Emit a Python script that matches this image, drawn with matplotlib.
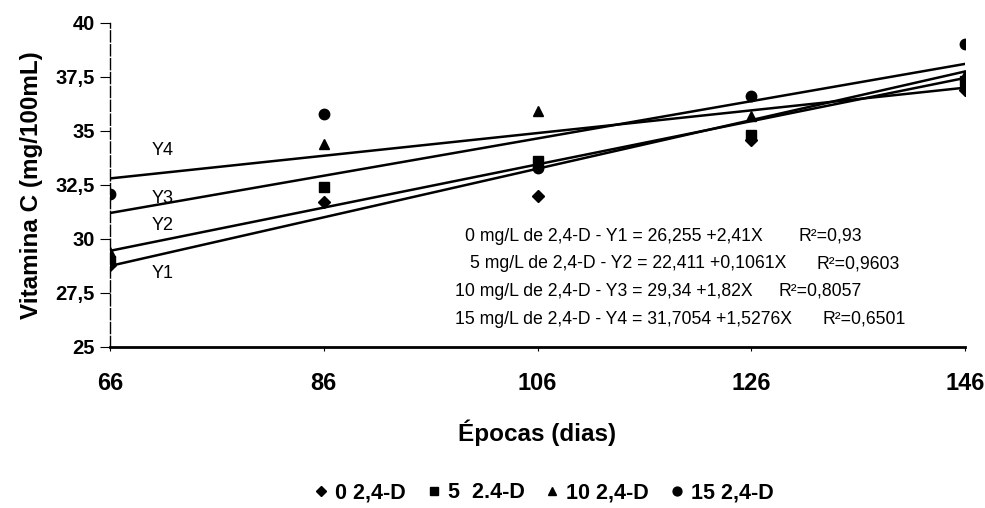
import matplotlib
matplotlib.use("Agg")
import matplotlib.pyplot as plt
from matplotlib import font_manager

# dados
epocas = [66, 86, 106, 126, 146]
d0 = [28.8, 31.7, 32.0, 34.6, 36.9]     # 0 mg/L 2,4-D (losango)
d5 = [29.0, 32.4, 33.6, 34.8, 37.3]     # 5 mg/L (quadrado)
d10 = [29.4, 34.4, 35.9, 35.7, 37.6]    # 10 mg/L (triangulo)
d15 = [32.1, 35.8, 33.3, 36.6, 39.0]    # 15 mg/L (circulo)

# retas ajustadas (valor em 66 e em 146)
reta_x = [66, 146]
y1 = [28.75, 37.75]
y2 = [29.45, 37.45]
y3 = [31.2, 38.1]
y4 = [32.8, 37.0]

rotulos_y = [25, 27.5, 30, 32.5, 35, 37.5, 40]
rotulos_y_txt = ["25", "27,5", "30", "32,5", "35", "37,5", "40"]

equacoes = ["0 mg/L de 2,4-D - Y1 = 26,255 +2,41X",
            "5 mg/L de 2,4-D - Y2 = 22,411 +0,1061X",
            "10 mg/L de 2,4-D - Y3 = 29,34 +1,82X",
            "15 mg/L de 2,4-D - Y4 = 31,7054 +1,5276X"]
r2 = ["R²=0,93", "R²=0,9603", "R²=0,8057", "R²=0,6501"]

nomes = {f.name for f in font_manager.fontManager.ttflist}
fonte = "Liberation Sans"
estreita = "Liberation Sans Narrow" if "Liberation Sans Narrow" in nomes else "Liberation Sans"

plt.rcParams['font.family'] = [fonte, 'DejaVu Sans']

fig = plt.figure(figsize=(9.85, 5.08), dpi=100)
ax = fig.add_axes([0.1117, 0.317, 0.868, 0.638])

ax.plot(epocas, d0, 'D', color='black', markersize=6, label='0 2,4-D')
ax.plot(epocas, d5, 's', color='black', markersize=6.5, label='5  2.4-D')
ax.plot(epocas, d10, '^', color='black', markersize=7.5, label='10 2,4-D')
ax.plot(epocas, d15, 'o', color='black', markersize=7.5, label='15 2,4-D')

for r in [y1, y2, y3, y4]:
    ax.plot(reta_x, r, color='black', linewidth=1.8)

ax.text(70.9, 34.1, "Y4", fontsize=13, ha='center', va='center')
ax.text(70.9, 31.85, "Y3", fontsize=13, ha='center', va='center')
ax.text(70.9, 30.6, "Y2", fontsize=13, ha='center', va='center')
ax.text(70.9, 28.4, "Y1", fontsize=13, ha='center', va='center')

eq_x = [465, 470, 455, 455]
eq_y = [236, 264, 291, 319]
r2_x = [798, 817, 778, 822]
for i in range(4):
    fig.text(eq_x[i] / 985, 1 - eq_y[i] / 508, equacoes[i], fontsize=12.7,
             family=estreita, va='center', ha='left')
    fig.text(r2_x[i] / 985, 1 - eq_y[i] / 508, r2[i], fontsize=12.7,
             family=estreita, va='center', ha='left')

ax.set_xlim(66, 146)
ax.set_ylim(25, 40)
ax.set_xticks(epocas)
ax.set_xticklabels([str(e) for e in epocas], fontsize=17, fontweight='bold')
ax.set_yticks(rotulos_y)
ax.set_yticklabels(rotulos_y_txt, fontsize=14.5, fontweight='bold')
ax.tick_params(axis='x', length=3, pad=15)
ax.tick_params(axis='y', length=7, pad=4)

for s in ['top', 'right']:
    ax.spines[s].set_visible(False)
ax.spines['left'].set_linestyle((0, (8, 2)))
ax.spines['left'].set_linewidth(1.0)
ax.spines['bottom'].set_linewidth(2.0)

ax.set_xlabel("Épocas (dias)", fontsize=17.5, fontweight='bold', labelpad=18)
ax.set_ylabel("Vitamina C (mg/100mL)", fontsize=17.5, fontweight='bold', labelpad=9)

fig.legend(loc='center', bbox_to_anchor=(543 / 985, 1 - 493 / 508), ncol=4,
           frameon=False, handletextpad=0.25, columnspacing=0.9,
           handlelength=0.8, markerscale=0.85, prop={'weight': 'bold', 'size': 15.5})

fig.savefig("out.png", dpi=100)
